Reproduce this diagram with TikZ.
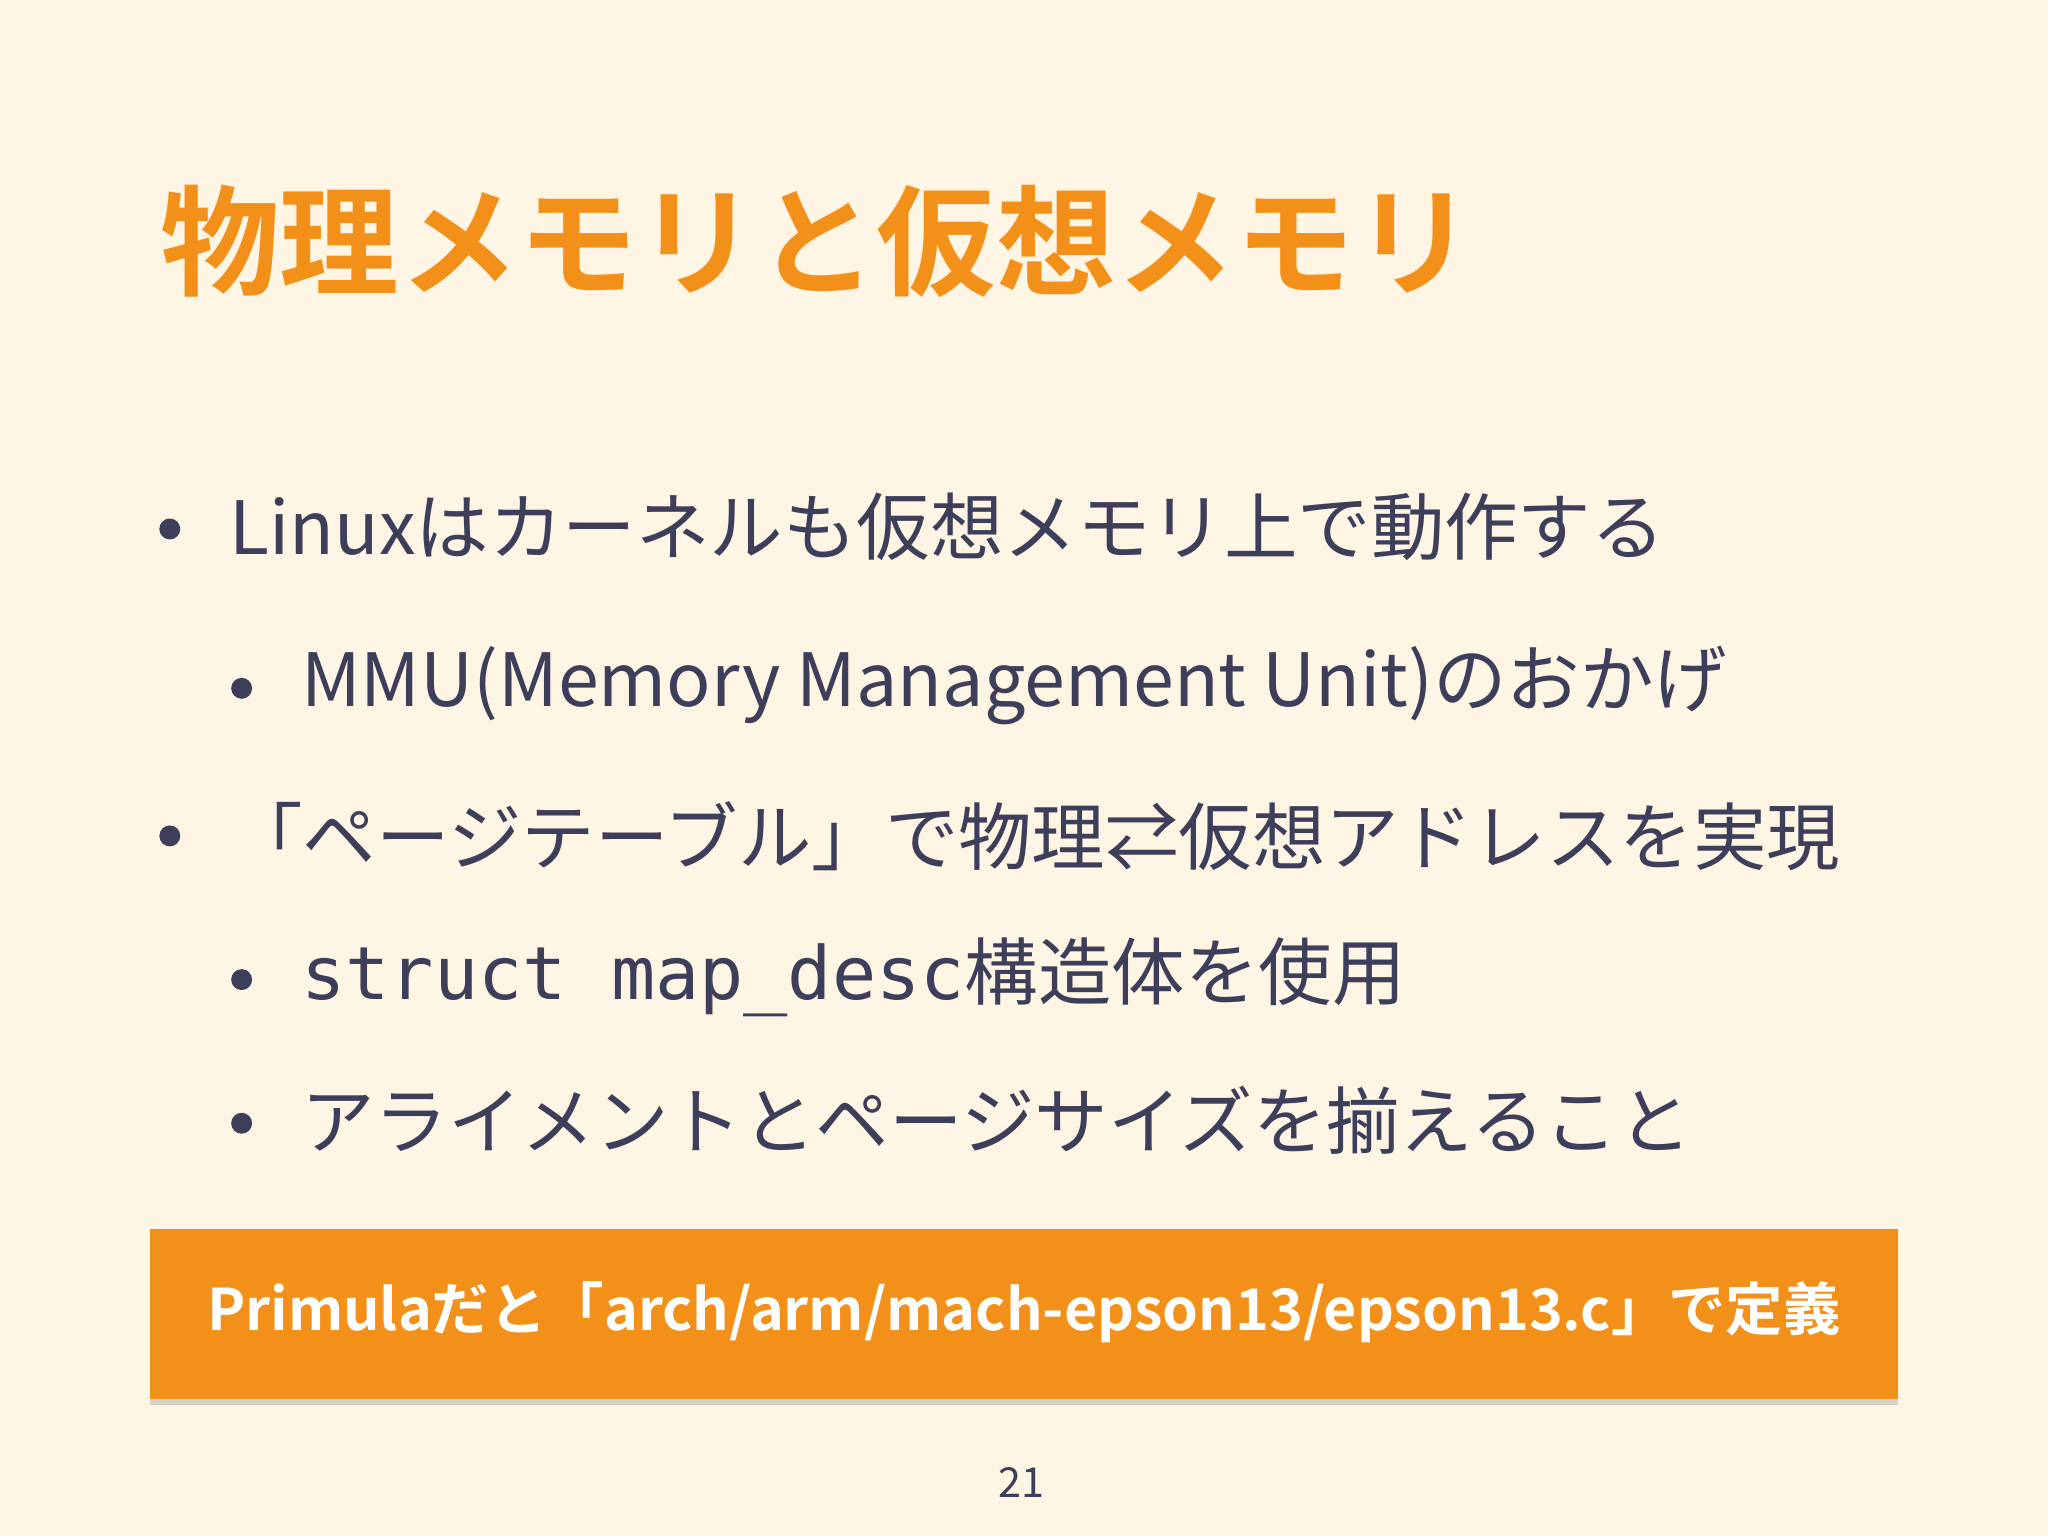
\documentclass[tikz,border=0pt]{standalone}
\usepackage{fontspec}
\setmainfont{Noto Sans CJK JP}
\newfontfamily\cjkb{Noto Sans CJK JP Bold}
\newfontfamily\monof{DejaVu Sans Mono}
\usetikzlibrary{shadows}
\definecolor{bg}{HTML}{FEF5E4}
\definecolor{org}{HTML}{F39019}
\definecolor{txt}{HTML}{3D3F5A}
\begin{document}
\begin{tikzpicture}[x=0.01cm,y=-0.01cm,
  bul/.style={anchor=west,text=txt,font=\fontsize{16}{18}\selectfont,inner sep=0pt},
  dot/.style={circle,fill=txt,inner sep=0pt,minimum size=0.16cm}]
\fill[bg] (0,0) rectangle (1568,1176);
\useasboundingbox (0,0) rectangle (1568,1176);
\node[anchor=west,text=org,font=\cjkb\fontsize{26}{30}\selectfont,inner sep=0pt] (title) at (122,185) {物理メモリと仮想メモリ};
\node[dot] (d1) at (130,405) {};
\node[bul] (l1) at (175,403) {Linuxはカーネルも仮想メモリ上で動作する};
\node[dot] (d2) at (185,527) {};
\node[bul] (l2) at (230,525) {MMU(Memory Management Unit)のおかげ};
\node[dot] (d3) at (130,640) {};
\node[bul] (l3) at (175,640) {「ページテーブル」で物理⇄仮想アドレスを実現};
\node[dot] (d4) at (185,750) {};
\node[bul] (l4) at (230,748) {{\monof\fontsize{16}{18}\selectfont struct map\_desc}構造体を使用};
\node[dot] (d5) at (185,860) {};
\node[bul] (l5) at (230,858) {アライメントとページサイズを揃えること};
\node[fill=org,minimum width=13.38cm,minimum height=1.3cm,drop shadow={opacity=0.3,shadow xshift=0pt,shadow yshift=-0.05cm}] (box) at (784,1006) {};
\node[text=white,font=\cjkb\fontsize{12.5}{15}\selectfont] (bt) at (784,1005) {Primulaだと「arch/arm/mach-epson13/epson13.c」で定義};
\node[text=txt,font=\fontsize{9}{10}\selectfont] (pg) at (782,1135) {21};
\end{tikzpicture}
\end{document}
